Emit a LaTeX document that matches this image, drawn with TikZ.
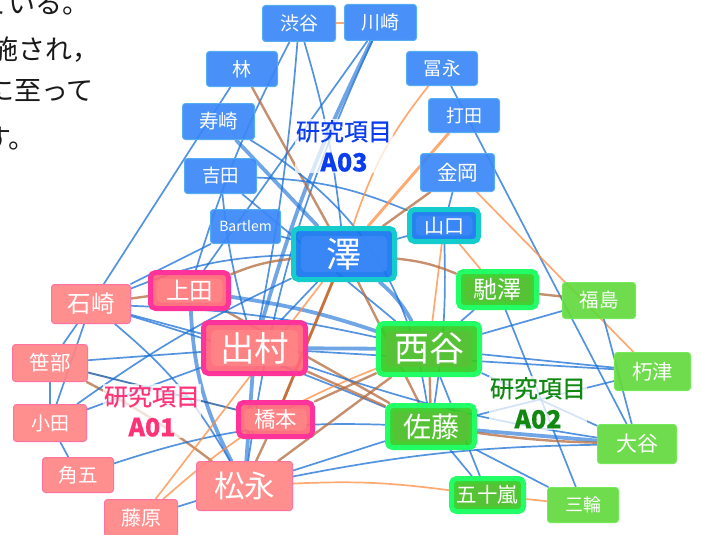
\documentclass[tikz,border=0pt]{standalone}
\usepackage{fontspec}
\newfontfamily\jp{Noto Sans CJK JP}
\newfontfamily\jpm{Noto Sans CJK JP}[FakeBold=0.6]
\usetikzlibrary{calc}
\pgfdeclarelayer{background}
\pgfsetlayers{background,main}
\definecolor{nblue}{HTML}{3A87F7}
\definecolor{nblueb}{HTML}{55AEF2}
\definecolor{nbluemid}{HTML}{1575EE}
\definecolor{tealb}{HTML}{14CCCC}
\definecolor{npink}{HTML}{FF8585}
\definecolor{npinkb}{HTML}{FF72A2}
\definecolor{npinkmid}{HTML}{FF6677}
\definecolor{magb}{HTML}{FF3399}
\definecolor{ngreen}{HTML}{62D93D}
\definecolor{ngreenb}{HTML}{74EA58}
\definecolor{ngreenmid}{HTML}{33CC22}
\definecolor{limeb}{HTML}{22FF66}
\definecolor{eblue}{HTML}{1A6FD6}
\definecolor{eorange}{HTML}{FF8C42}
\definecolor{eorange2}{HTML}{EE6611}
\definecolor{ebrown}{HTML}{B36A3E}
\definecolor{labA}{HTML}{0A3CF0}
\definecolor{labB}{HTML}{FF3377}
\definecolor{labC}{HTML}{118811}
\newcommand\nd[9]{%
  \pgfmathsetmacro\ndcx{(#3+#5)/2}\pgfmathsetmacro\ndcy{(#4+#6)/2}%
  \pgfmathsetmacro\ndw{#5-#3-#9}\pgfmathsetmacro\ndh{#6-#4-#9}%
  \node[#1, minimum width=\ndw pt, minimum height=\ndh pt,
        font=\jp\fontsize{#7}{#7}\selectfont] (#2) at (\ndcx,\ndcy) {#8};}
\begin{document}
\begin{tikzpicture}[x=1pt,y=-1pt,
  base/.style={rectangle, rounded corners=3pt, inner sep=0pt, text=white,
     fill opacity=0.92, text opacity=1},
  bluen/.style={base, fill=nblue, draw=nblueb, line width=1pt},
  pinkn/.style={base, fill=npink, draw=npinkb, line width=1pt},
  greenn/.style={base, fill=ngreen, draw=ngreenb, line width=1pt},
  hlin/.style 2 args={path picture={\fill[#1]
      ([shift={(#2,-#2)}]path picture bounding box.north west) rectangle
      ([shift={(-#2,#2)}]path picture bounding box.south east);}},
  bluehl/.style={base, fill=nbluemid, draw=tealb, line width=5pt, rounded corners=5pt, hlin={nblue}{#1}},
  pinkhl/.style={base, fill=npinkmid, draw=magb, line width=5pt, rounded corners=5pt, hlin={npink}{#1}},
  greenhl/.style={base, fill=ngreenmid, draw=limeb, line width=5pt, rounded corners=5pt, hlin={ngreen!90!black}{#1}},
  edge/.style={draw opacity=0.75, line cap=round},
  eb/.style={edge, draw=eblue, line width=1.7pt},
  ebt/.style={edge, draw=eblue, line width=3.8pt, draw opacity=0.62},
  ebd/.style={edge, draw=eblue!70!black, line width=1.9pt},
  eo/.style={edge, draw=eorange, line width=1.7pt},
  eot/.style={edge, draw=eorange, line width=2.9pt},
  ebr/.style={edge, draw=ebrown, line width=2.4pt},
  lab/.style={font=\jpm\fontsize{24}{24}\selectfont, fill=white, fill opacity=0.75,
     text opacity=1, inner sep=1pt, align=center},
  para/.style={font=\jp\fontsize{27}{27}\selectfont, text=black!90, anchor=east, inner sep=0pt}
]
\useasboundingbox (0,0) rectangle (701,535);
\clip (0,0) rectangle (701,535);
% paragraph fragment
\node[para] (p1) at (90,4) {されている。};
\node[para] (p2) at (100,50) {実施され，};
\node[para] (p3) at (94,91) {に至って};
\node[para] (p4) at (36,139) {ます。};
% A03 nodes
\nd{bluen}{shibuya}{262}{5}{336}{42}{19}{渋谷}{1}
\nd{bluen}{kawasaki}{344}{4}{417}{41}{19}{川崎}{1}
\nd{bluen}{hayashi}{206}{51}{278}{87}{19}{林}{1}
\nd{bluen}{tominaga}{406}{51}{478}{86}{18.5}{冨永}{1}
\nd{bluen}{suzaki}{182}{103}{255}{140}{19.5}{寿崎}{1}
\nd{bluen}{uchida}{428}{98}{500}{133}{18}{打田}{1}
\nd{bluen}{yoshida}{184}{158}{257}{194}{18.5}{吉田}{1}
\nd{bluen}{kaneoka}{420}{153}{495}{192}{20.5}{金岡}{1}
\nd{bluen}{bartlem}{210}{209}{281}{244}{14}{Bartlem}{1}
\nd{bluehl=6pt}{yamaguchi}{407}{207}{481}{244}{20}{山口}{5}
\nd{bluehl=7.5pt}{sawa}{291}{226}{397}{282}{35}{澤}{5}
% A01 nodes
\nd{pinkhl=6pt}{ueda}{148}{270}{231}{311}{23.5}{上田}{5}
\nd{pinkn}{ishizaki}{51}{284}{131}{324}{23.5}{石崎}{1}
\nd{pinkhl=7.5pt}{demura}{201}{320}{308}{376}{34.5}{出村}{5}
\nd{pinkn}{sasabe}{12}{344}{88}{382}{20.5}{笹部}{1}
\nd{pinkn}{oda}{13}{404}{87}{442}{19}{小田}{1}
\nd{pinkhl=6pt}{hashimoto}{236}{400}{315}{439}{21.5}{橋本}{5}
\nd{pinkn}{kakugo}{42}{457}{114}{493}{19.5}{角五}{1}
\nd{pinkn}{matsunaga}{196}{461}{293}{511}{30.5}{松永}{1}
\nd{pinkn}{fujiwara}{104}{499}{178}{537}{20}{藤原}{1}
% A02 nodes
\nd{greenhl=6pt}{chisawa}{456}{269}{539}{310}{24}{馳澤}{5}
\nd{greenn}{fukushima}{562}{282}{636}{319}{19.5}{福島}{1}
\nd{greenhl=7.5pt}{nishitani}{376}{321}{482}{377}{35}{西谷}{5}
\nd{greenn}{kutsuzu}{614}{352}{691}{391}{20.5}{朽津}{1}
\nd{greenhl=6pt}{sato}{385}{403}{477}{450}{28}{佐藤}{5}
\nd{greenn}{otani}{597}{424}{677}{464}{21}{大谷}{1}
\nd{greenhl=5.5pt}{igarashi}{449}{476}{526}{514}{20.5}{五十嵐}{5}
\nd{greenn}{miwa}{547}{487}{619}{523}{18}{三輪}{1}
% labels
\node[lab, text=labA] (labA03) at (344,146) {研究項目\\[7pt]{\fontsize{25}{25}\selectfont\bfseries A03}};
\node[lab, text=labB] (labA01) at (152,411) {研究項目\\[7pt]{\fontsize{25}{25}\selectfont\bfseries A01}};
\node[lab, text=labC] (labA02) at (538,403) {研究項目\\[7pt]{\fontsize{25}{25}\selectfont\bfseries A02}};
% edges
\begin{pgfonlayer}{background}
\draw[eo] (shibuya) -- (kawasaki);
\draw[eb] (shibuya) to[bend right=5] (ueda);
\draw[eb] (shibuya) to[bend left=3] (demura);
\draw[eb] (shibuya) to[bend left=5] (sawa);
\draw[ebt] (kawasaki) to[bend right=5] (demura);
\draw[eb] (kawasaki) to[bend right=8] (matsunaga);
\draw[eb] (kawasaki) -- (ueda);
\draw[eb] (hayashi) -- (ishizaki);
\draw[ebr] (hayashi) -- (sawa);
\draw[ebt] (suzaki) -- (sawa);
\draw[eb] (suzaki) to[bend left=25] (sato);
\draw[eb] (yoshida) to[bend left=10] (yamaguchi);
\draw[eb] (yoshida) -- (nishitani);
\draw[eb] (yoshida) to[bend right=5] (demura);
\draw[eb] (bartlem) -- (sawa);
\draw[eb] (bartlem) -- (ishizaki);
\draw[eo] (tominaga) to[bend right=10] (sawa);
\draw[eb] (tominaga) -- (otani);
\draw[eot] (uchida) -- (sawa);
\draw[ebr] (kaneoka) -- (sawa);
\draw[eb] (kaneoka) -- (yamaguchi);
\draw[eo] (kaneoka) -- (kutsuzu);
\draw[eb] (yamaguchi) -- (sawa);
\draw[eo] (yamaguchi) -- (nishitani);
\draw[eo] (yamaguchi) -- (chisawa);
\draw[eb] (yamaguchi) to[bend left=5] (sato);
\draw[eb] (sawa) -- (demura);
\draw[ebt] (sawa) to[bend left=10] (nishitani);
\draw[ebr] (sawa) -- (sato);
\draw[eot, draw=eorange2] (sawa) -- (hashimoto);
\draw[ebr] (sawa) to[bend right=8] (ueda);
\draw[ebr] (sawa) to[bend left=8] (chisawa);
\draw[eb] (sawa) to[bend right=10] (ishizaki);
\draw[ebr] (ueda) -- (ishizaki);
\draw[ebt] (ueda) to[bend left=5] (nishitani);
\draw[ebr] (ueda) -- (sato);
\draw[ebt] (ueda) to[bend right=12] (matsunaga);
\draw[eb] (ishizaki) to[bend left=5] (nishitani);
\draw[eb] (ishizaki) -- (demura);
\draw[eb] (ishizaki) to[bend left=3] (sato);
\draw[eb] (ishizaki) -- (sasabe);
\draw[eb] (ishizaki) -- (oda);
\draw[eb] (ishizaki) to[bend left=10] (matsunaga);
\draw[eb] (sasabe) -- (oda);
\draw[eb] (sasabe) -- (demura);
\draw[ebd] (sasabe) -- (hashimoto);
\draw[ebr] (sasabe) to[bend left=5] (matsunaga);
\draw[eb] (oda) -- (kakugo);
\draw[eb] (oda) -- (demura);
\draw[eb] (oda) to[bend left=5] (sawa);
\draw[eb] (kakugo) to[bend left=10] (sato);
\draw[eb] (fujiwara) -- (matsunaga);
\draw[eo] (fujiwara) to[bend left=10] (nishitani);
\draw[eo] (fujiwara) -- (sawa);
\draw[ebt] (demura) -- (nishitani);
\draw[ebr] (demura) -- (sato);
\draw[ebt] (demura) -- (matsunaga);
\draw[eb] (demura) -- (kutsuzu);
\draw[eb] (demura) to[bend right=5] (otani);
\draw[ebr] (hashimoto) -- (matsunaga);
\draw[ebr] (hashimoto) -- (nishitani);
\draw[ebr] (hashimoto) -- (sawa);
\draw[ebr] (matsunaga) -- (nishitani);
\draw[eb] (matsunaga) -- (sato);
\draw[eo] (matsunaga) to[bend left=5] (igarashi);
\draw[eb] (matsunaga) to[bend left=5] (otani);
\draw[ebr] (nishitani) -- (sato);
\draw[eb] (nishitani) -- (fukushima);
\draw[eb] (nishitani) -- (kutsuzu);
\draw[eb] (nishitani) -- (otani);
\draw[eb] (nishitani) -- (igarashi);
\draw[ebr] (chisawa) -- (fukushima);
\draw[eb] (chisawa) -- (miwa);
\draw[eb] (chisawa) -- (nishitani);
\draw[ebt] (sato) -- (otani);
\draw[ebr] (sato) to[bend right=3] (otani);
\draw[eb] (sato) -- (kutsuzu);
\draw[eb] (sato) -- (miwa);
\draw[eb] (sato) -- (igarashi);
\draw[eo] (igarashi) -- (miwa);
\draw[eb] (fukushima) -- (otani);
\end{pgfonlayer}
\end{tikzpicture}
\end{document}
